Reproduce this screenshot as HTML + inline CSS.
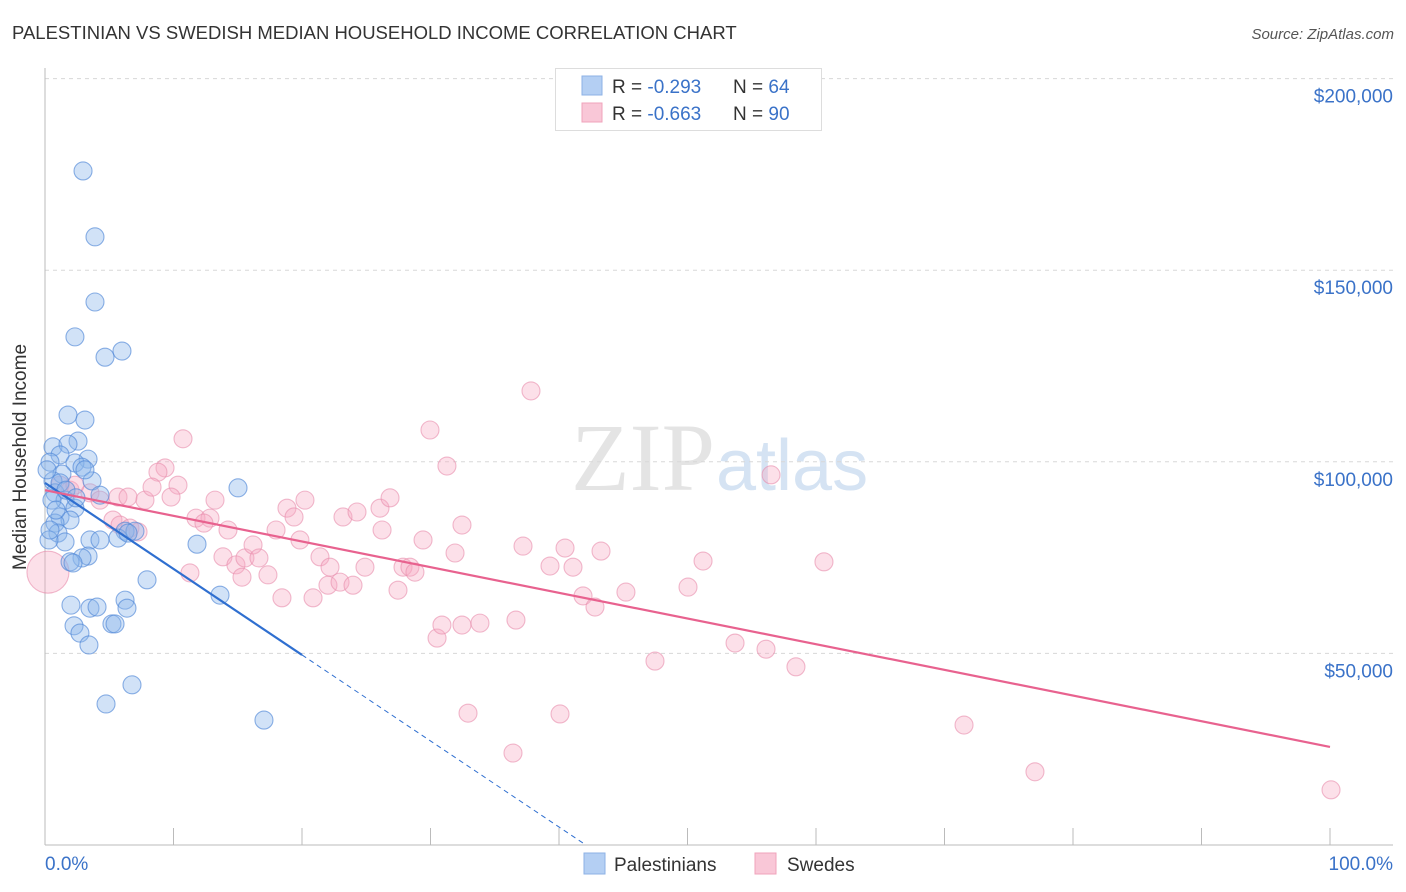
<!DOCTYPE html>
<html><head><meta charset="utf-8"><style>
body{margin:0;background:#fff;font-family:"Liberation Sans",sans-serif;}
#c{position:relative;width:1406px;height:892px;overflow:hidden;}
</style></head><body>
<div id="c">
<svg id="svg" width="1406" height="892" xmlns="http://www.w3.org/2000/svg">
<text x="12" y="39" font-size="18.5" fill="#333">PALESTINIAN VS SWEDISH MEDIAN HOUSEHOLD INCOME CORRELATION CHART</text>
<text x="1394" y="39" font-size="15" fill="#555" font-style="italic" text-anchor="end">Source: ZipAtlas.com</text>
<text x="715" y="490" font-size="96" fill="#e4e4e4" text-anchor="end" font-family="Liberation Serif,serif">ZIP</text>
<text x="716" y="490" font-size="72" fill="#d5e3f3">atlas</text>
<g id="grid"></g><g id="axes"></g><g id="pts"></g><g id="lines"></g>
<text x="26" y="457" font-size="19" fill="#333" text-anchor="middle" transform="rotate(-90 26 457)">Median Household Income</text>
<text x="45" y="870" font-size="19" fill="#3a72c8">0.0%</text>
<text x="1393" y="870" font-size="19" fill="#3a72c8" text-anchor="end">100.0%</text>
<g>
<rect x="555.5" y="68.5" width="266" height="62" fill="#fff" stroke="#ddd"/>
<rect x="582" y="76" width="20" height="19" fill="#b4cff3" stroke="#8db2e6"/>
<rect x="582" y="103" width="20" height="19" fill="#f9c7d7" stroke="#f0a3bb"/>
<text x="612" y="93" font-size="19" fill="#333">R = <tspan fill="#3a72c8">-0.293</tspan></text>
<text x="733" y="93" font-size="19" fill="#333">N = <tspan fill="#3a72c8">64</tspan></text>
<text x="612" y="120" font-size="19" fill="#333">R = <tspan fill="#3a72c8">-0.663</tspan></text>
<text x="733" y="120" font-size="19" fill="#333">N = <tspan fill="#3a72c8">90</tspan></text>
</g>
<rect x="584" y="853" width="21" height="21" fill="#b4cff3" stroke="#8db2e6"/>
<text x="614" y="871" font-size="19" fill="#333">Palestinians</text>
<rect x="755" y="853" width="21" height="21" fill="#f9c7d7" stroke="#f0a3bb"/>
<text x="787" y="871" font-size="19" fill="#333">Swedes</text>
</svg>
</div>
<script>
const yTicks=[50,100,150,200];
const yTickLabels=["$50,000","$100,000","$150,000","$200,000"];
const xTicks=[0,10,20,30,40,50,60,70,80,90,100];
const bluePct=[2.96,3.89,3.89,2.33,5.99,4.67,1.79,3.11,0.62,2.57,1.79,1.17,3.35,2.33,0.39,2.88,1.32,3.66,0.62,0.78,4.28,1.56,2.33,1.17,1.95,0.78,1.01,1.56,3.50,3.35,2.88,1.95,2.18,6.23,5.68,7.00,15.02,11.83,7.94,2.02,3.50,4.05,6.23,6.38,2.26,2.72,3.42,5.21,5.45,13.62,4.75,6.77,17.04,0.54,0.31,0.39,0.16,1.17,6.46,4.28,0.86,3.11,1.63,2.41];
const blueInc=[175.9,158.7,141.7,132.6,128.9,127.3,112.2,110.9,103.9,105.4,104.6,101.8,100.7,99.7,99.9,98.6,96.8,95.0,95.0,91.9,91.3,90.0,87.9,85.6,84.8,84.0,81.4,79.1,79.6,75.4,74.9,73.9,73.6,81.9,80.1,81.9,93.2,78.5,69.2,62.6,61.8,62.1,63.9,61.8,57.2,55.3,52.2,57.7,57.7,65.2,36.8,41.8,32.6,90.0,79.6,82.2,97.9,94.5,81.4,79.6,87.4,97.9,92.6,90.6];
const pinkPct=[0.23,1.95,3.50,1.17,2.33,4.28,5.68,6.46,7.78,5.29,5.84,6.61,7.24,10.74,9.34,8.79,8.33,10.35,9.81,11.75,12.84,12.37,13.23,14.24,11.28,13.85,14.86,15.56,16.19,16.65,15.33,17.35,17.98,18.83,19.38,20.23,19.84,18.44,20.86,21.40,22.18,22.02,22.96,23.97,23.19,24.28,24.90,26.07,26.23,26.85,27.47,27.86,28.40,28.79,29.42,29.96,31.28,32.45,31.91,30.51,30.89,32.45,33.85,32.92,36.65,36.42,37.20,39.30,40.47,41.09,43.27,41.87,42.80,40.08,37.82,45.21,47.47,50.04,51.21,53.70,56.11,56.50,58.44,60.62,71.52,77.04,100.08];
const pinkInc=[71.2,92.6,91.9,93.9,93.9,90.0,90.8,90.8,90.0,84.8,83.5,82.7,81.7,106.0,98.4,97.3,93.4,93.9,90.8,85.3,85.3,84.0,90.0,82.2,71.0,75.2,73.1,74.9,78.3,74.9,69.9,70.5,82.2,87.9,85.6,90.0,79.6,64.5,64.5,75.2,72.5,67.8,68.6,67.8,85.6,86.9,72.5,87.9,82.2,90.6,66.5,72.5,72.5,71.2,79.6,108.3,98.9,83.5,76.2,54.0,57.4,57.4,57.9,34.4,58.7,24.0,78.0,72.8,77.5,72.5,76.7,65.0,62.1,34.2,118.5,66.0,48.0,67.3,74.1,52.7,51.1,96.6,46.5,73.9,31.3,19.1,14.4];
const blueTrend=[94.5,-2.245];
const pinkTrend=[92.6,-0.670];
const NS="http://www.w3.org/2000/svg";
const X=p=>45+p*12.85, Y=k=>845-k*3.832;
function mk(t,a,parent){const e=document.createElementNS(NS,t);for(const k in a)e.setAttribute(k,a[k]);document.getElementById(parent).appendChild(e);return e;}
yTicks.forEach((v,i)=>{
 const l=mk('line',{x1:45,x2:1393,y1:Y(v),y2:Y(v),stroke:'#d8d8d8','stroke-dasharray':'4,4'},'grid');
 
 
 const t=mk('text',{x:1393,y:Y(v)+24,'font-size':19,fill:'#3a72c8','text-anchor':'end'},'grid');
 t.textContent=yTickLabels[i];
 
 
});
const ax=mk('line',{x1:45,x2:1393,y1:845,y2:845,stroke:'#bbb'},'axes');


const ay=mk('line',{x1:45,x2:45,y1:68,y2:845,stroke:'#bbb'},'axes');


xTicks.forEach(p=>{const t=mk('line',{x1:X(p),x2:X(p),y1:828,y2:845,stroke:'#bbb'},'axes');
 
 });
pinkPct.forEach((p,i)=>{const c=mk('circle',{cx:X(p),cy:Y(pinkInc[i]),r:i===0?21:9,fill:'rgba(246,168,194,0.36)',stroke:'rgba(232,140,172,0.6)','stroke-width':1.1},'pts');
 
 });
bluePct.forEach((p,i)=>{const c=mk('circle',{cx:X(p),cy:Y(blueInc[i]),r:9,fill:'rgba(140,182,236,0.4)',stroke:'rgba(80,135,215,0.65)','stroke-width':1.1},'pts');
 
 });
const f=(t,p)=>t[0]+t[1]*p;
const b1=mk('line',{x1:X(0),y1:Y(f(blueTrend,0)),x2:X(20),y2:Y(f(blueTrend,20)),stroke:'#2f6fd0','stroke-width':2.2},'lines');


const pEnd=-blueTrend[0]/blueTrend[1];
const b2=mk('line',{x1:X(20),y1:Y(f(blueTrend,20)),x2:X(pEnd),y2:Y(0),stroke:'#2f6fd0','stroke-width':1,'stroke-dasharray':'5,4'},'lines');


const p1=mk('line',{x1:X(0),y1:Y(f(pinkTrend,0)),x2:X(100),y2:Y(f(pinkTrend,100)),stroke:'#e8628f','stroke-width':2.2},'lines');


</script>
</body></html>
